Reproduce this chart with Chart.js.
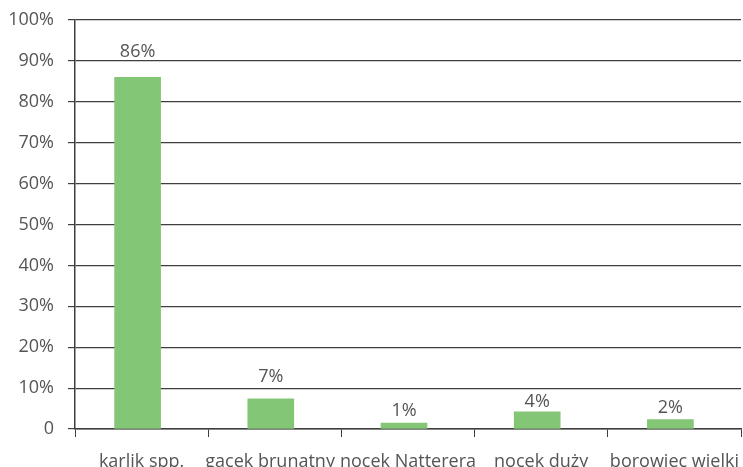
<!DOCTYPE html>
<html lang="pl">
<head>
    <meta charset="UTF-8">
    <title>Udział gatunków nietoperzy</title>
    <script src="https://cdn.jsdelivr.net/npm/chart.js"></script>
    <style>
        body { margin: 0; padding: 0; background: #fff; }
        .chart-box { width: 743px; height: 467px; position: relative; }
    </style>
</head>
<body>
    <div class="chart-box">
        <canvas id="batChart" width="743" height="467"></canvas>
    </div>

    <script>
        // Data
        const categories = ['karlik spp.', 'gacek brunatny', 'nocek Natterera', 'nocek duży', 'borowiec wielki'];
        const shares = [86.0, 7.4, 1.45, 4.2, 2.3];
        const shareLabels = ['86%', '7%', '1%', '4%', '2%'];
        const yTicks = [0, 10, 20, 30, 40, 50, 60, 70, 80, 90, 100];

        // distance (px) between bar top and the centre of its label, as placed in the original
        const labelGap = [25, 22, 12, 10, 12];

        const textColor = '#555555';
        const lineColor = '#3f3f3f';
        const fontFamily = '"Open Sans", "Noto Sans", sans-serif';

        // Excel draws the bars a little left of the category centre
        const barShift = {
            id: 'barShift',
            afterDatasetsUpdate(chart) {
                chart.getDatasetMeta(0).data.forEach(bar => { bar.x -= 4; });
            }
        };

        // Percent labels above the bars
        const barLabels = {
            id: 'barLabels',
            afterDatasetsDraw(chart) {
                const ctx = chart.ctx;
                const meta = chart.getDatasetMeta(0);
                ctx.save();
                ctx.font = '18px ' + fontFamily;
                ctx.fillStyle = textColor;
                ctx.textAlign = 'center';
                ctx.textBaseline = 'middle';
                meta.data.forEach((bar, i) => {
                    ctx.fillText(shareLabels[i], bar.x, bar.y - labelGap[i]);
                });
                ctx.restore();
            }
        };

        const ctx = document.getElementById('batChart').getContext('2d');
        const batChart = new Chart(ctx, {
            type: 'bar',
            data: {
                labels: categories,
                datasets: [{
                    data: shares,
                    backgroundColor: '#83c676',
                    borderWidth: 0,
                    barThickness: 46
                }]
            },
            options: {
                responsive: false,
                animation: false,
                events: [],
                layout: { padding: { left: 0, right: 2, top: 20, bottom: 0 } },
                plugins: {
                    legend: { display: false },
                    tooltip: { enabled: false }
                },
                scales: {
                    x: {
                        offset: true,
                        afterFit(scale) {
                            scale.height = 38;
                            scale.paddingLeft = 0;
                            scale.paddingRight = 0;
                        },
                        grid: {
                            offset: true,
                            drawOnChartArea: false,
                            drawTicks: true,
                            tickLength: 8,
                            color: lineColor
                        },
                        border: { color: lineColor, width: 1.5 },
                        ticks: {
                            color: textColor,
                            font: { family: fontFamily, size: 18 },
                            padding: 14,
                            maxRotation: 0,
                            autoSkip: false,
                            // the second label sits a bit left in the original, leaving a gap before the third
                            callback: (v, i) => i === 1 ? categories[i] + '  ' : categories[i]
                        }
                    },
                    y: {
                        min: 0,
                        max: 100,
                        afterFit(scale) {
                            scale.width = 75;
                            scale.paddingTop = 0;
                            scale.paddingBottom = 0;
                        },
                        afterBuildTicks(scale) {
                            scale.ticks = yTicks.map(v => ({ value: v }));
                        },
                        grid: {
                            color: lineColor,
                            lineWidth: 1.2,
                            tickLength: 7
                        },
                        border: { color: lineColor, width: 1.5 },
                        ticks: {
                            color: textColor,
                            font: { family: fontFamily, size: 18 },
                            padding: 14,
                            callback: v => v === 0 ? '0' : v + '%'
                        }
                    }
                }
            },
            plugins: [barShift, barLabels]
        });
    </script>
</body>
</html>
